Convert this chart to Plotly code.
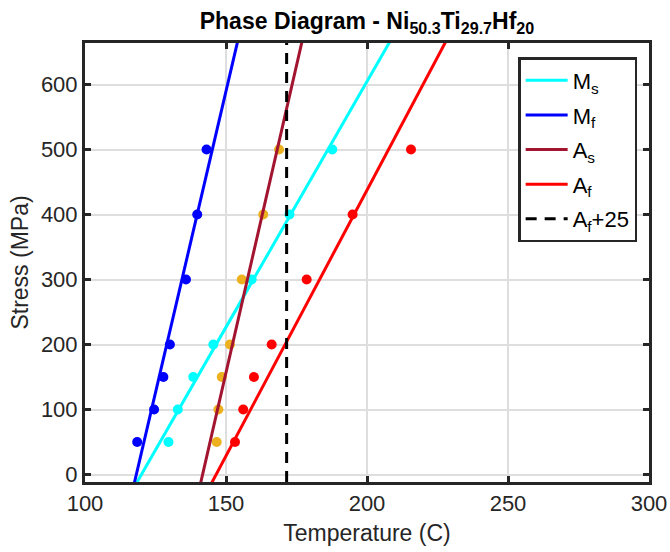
import numpy as np
import plotly.graph_objects as go

# Measured transformation temperatures (C) at each applied stress (MPa)
stress = [50, 100, 150, 200, 300, 400, 500]
ms_temp = [129.6, 132.9, 138.4, 145.5, 159.1, 172.5, 187.7]
mf_temp = [118.5, 124.5, 127.8, 130.1, 135.8, 139.8, 143.1]
as_temp = [146.7, 147.3, 148.5, 151.4, 155.6, 163.2, 168.8]
af_temp = [153.2, 156.1, 159.9, 166.2, 178.6, 194.9, 215.6]

# Stress-free transformation temperatures (C) and Clausius-Clapeyron slopes (MPa/C)
t0 = {"Ms": 120.0, "Mf": 118.2, "As": 141.7, "Af": 146.5}
cc_slope = {"Ms": 7.56, "Mf": 18.55, "As": 18.9, "Af": 8.18}
af_offset = 25

x_range = [100, 300]
y_range = [-11.5, 664]
x_ticks = [100, 150, 200, 250, 300]
y_ticks = [0, 100, 200, 300, 400, 500, 600]

colors = {"Ms": "#00FFFF", "Mf": "#0000FF", "As": "#A2142F", "Af": "#FF0000"}
point_colors = {"Ms": "#00FFFF", "Mf": "#0000FF", "As": "#EDB120", "Af": "#FF0000"}
labels = {"Ms": "M<sub>s</sub>", "Mf": "M<sub>f</sub>", "As": "A<sub>s</sub>", "Af": "A<sub>f</sub>"}
measured = {"Ms": ms_temp, "Mf": mf_temp, "As": as_temp, "Af": af_temp}

FONT = "Liberation Sans, Arial, Helvetica, sans-serif"
INK = "#262626"

fig = go.Figure()

# measured points
for key in ["Ms", "Mf", "As", "Af"]:
    fig.add_trace(go.Scatter(
        x=measured[key], y=stress, mode="markers",
        marker=dict(color=point_colors[key], size=10, line=dict(width=0)),
        showlegend=False, hoverinfo="skip"))

# linear stress-temperature boundaries
sig = np.array([-100.0, 800.0])
for key in ["Ms", "Mf", "As", "Af"]:
    fig.add_trace(go.Scatter(
        x=t0[key] + sig / cc_slope[key], y=sig, mode="lines",
        line=dict(color=colors[key], width=3),
        name=labels[key], legendgroup=key))

# Af + 25 reference
af_ref = t0["Af"] + af_offset
fig.add_trace(go.Scatter(
    x=[af_ref, af_ref], y=y_range, mode="lines",
    line=dict(color="black", width=3, dash="11px,8px"),
    name="A<sub>f</sub>+25", legendgroup="ref"))

axis_common = dict(
    showline=True, linecolor=INK, linewidth=3, mirror="ticks",
    ticks="inside", ticklen=6, tickwidth=2.5, tickcolor=INK,
    showgrid=True, gridcolor="#dedede", gridwidth=2,
    zeroline=False, automargin=False,
    tickfont=dict(family=FONT, size=22, color=INK),
)

fig.update_xaxes(
    range=x_range, tickvals=x_ticks, **axis_common,
    title=dict(text="Temperature (C)", font=dict(family=FONT, size=23, color=INK), standoff=10),
)
fig.update_yaxes(
    range=y_range, tickvals=y_ticks, **axis_common,
    title=dict(text="Stress (MPa)", font=dict(family=FONT, size=23, color=INK), standoff=6),
)

fig.update_layout(
    width=670, height=552,
    margin=dict(l=85, r=21, t=43, b=70),
    paper_bgcolor="white", plot_bgcolor="white",
    title=dict(
        text="<b>Phase Diagram - Ni<sub>50.3</sub>Ti<sub>29.7</sub>Hf<sub>20</sub></b>",
        font=dict(family=FONT, size=23, color="black"),
        x=0.5, xref="paper", xanchor="center",
        y=1 - 21 / 552, yref="container", yanchor="middle",
    ),
    legend=dict(
        x=0.768, y=0.968, xanchor="left", yanchor="top",
        bgcolor="white", bordercolor=INK, borderwidth=2.5,
        font=dict(family=FONT, size=22, color="black"),
        tracegroupgap=3, itemwidth=42,
    ),
    showlegend=True,
)

fig.write_html("out.html")
